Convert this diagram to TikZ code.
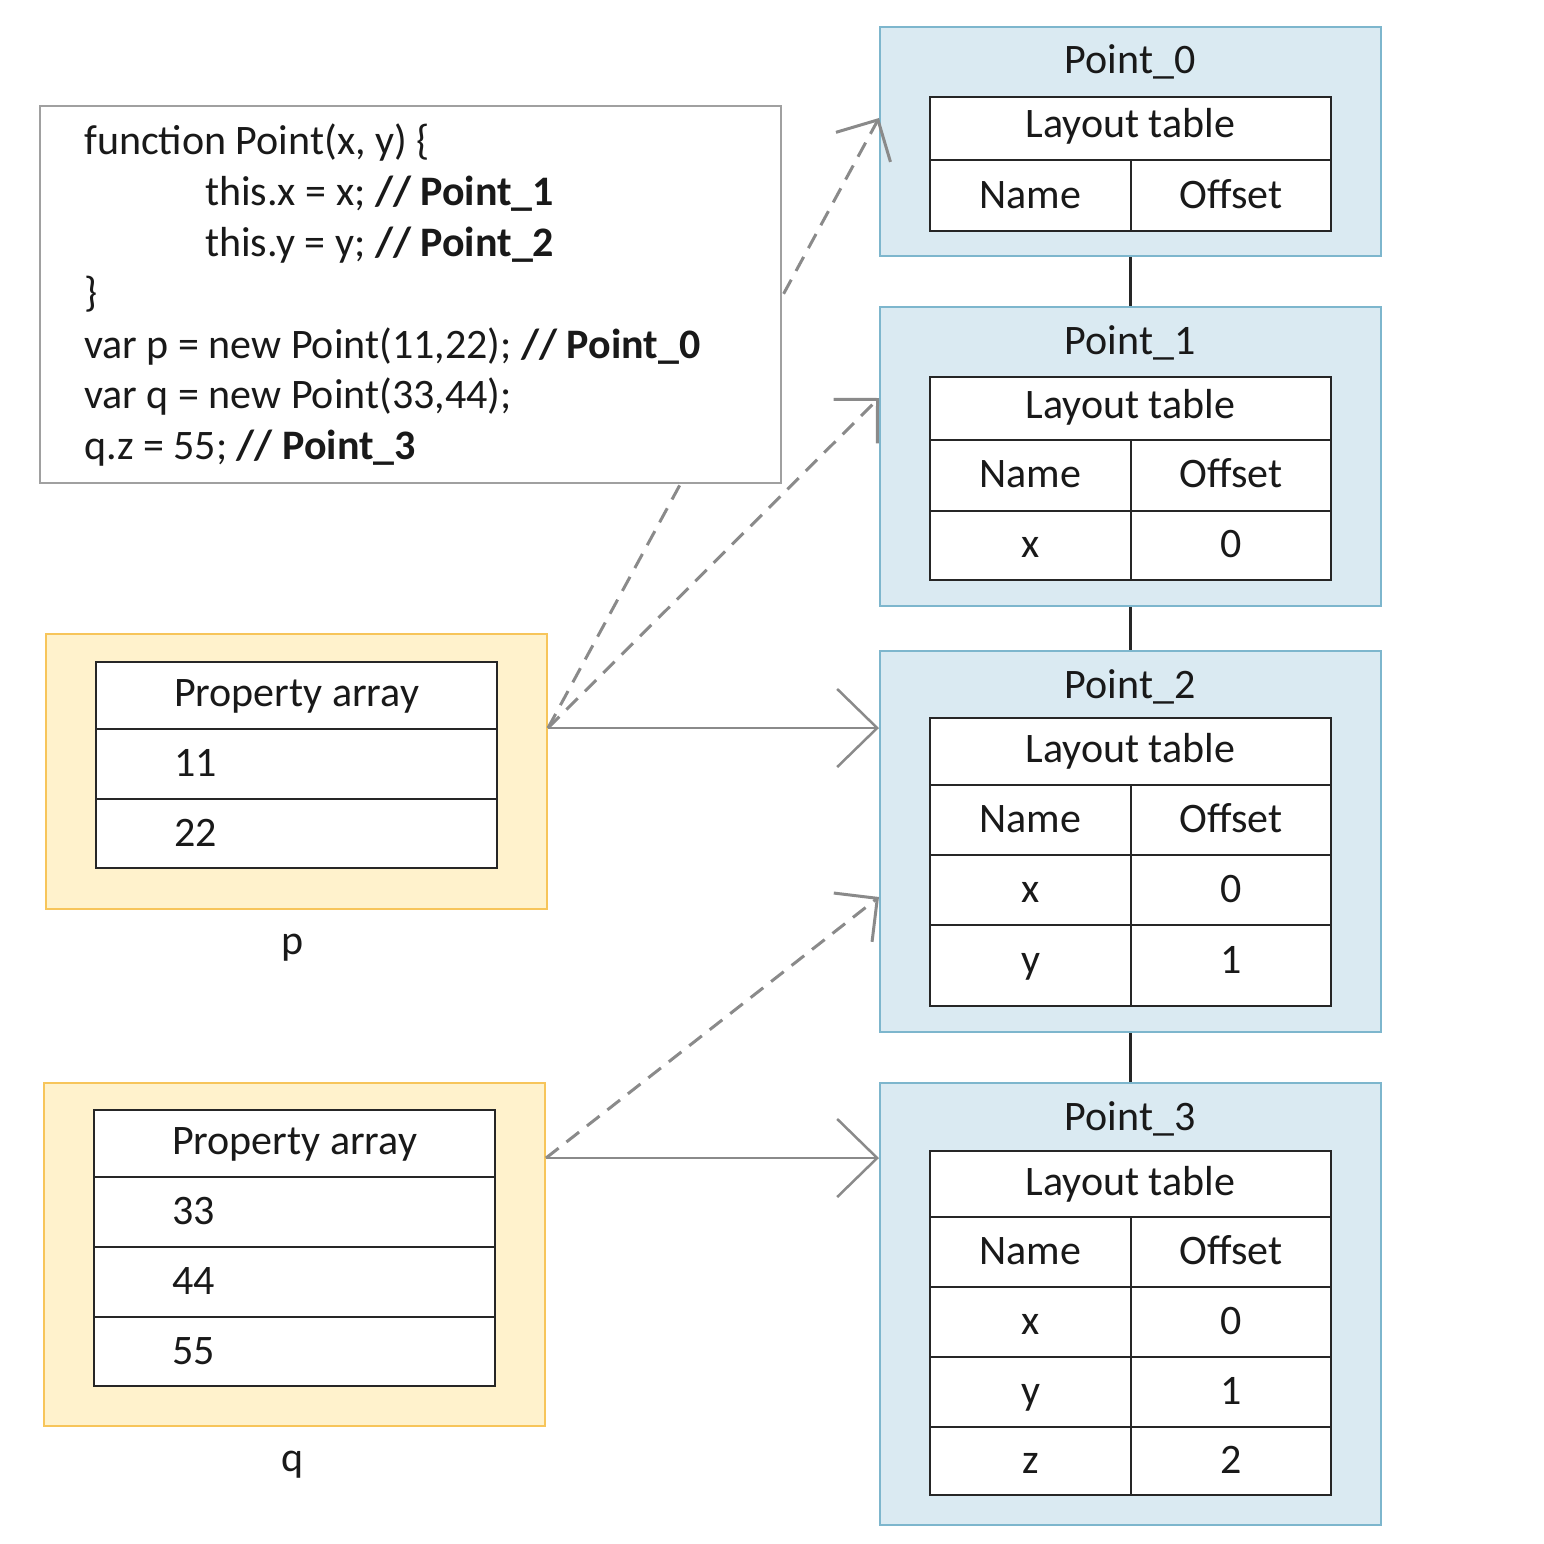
\documentclass[tikz,border=0pt]{standalone}
\usepackage{fontspec}
\setmainfont{Carlito}
\usetikzlibrary{arrows.meta}
\definecolor{ptfill}{HTML}{DAEAF2}
\definecolor{ptline}{HTML}{7DB6CD}
\definecolor{pafill}{HTML}{FFF2CC}
\definecolor{paline}{HTML}{F7C55A}
\definecolor{conn}{HTML}{8A8A8A}
\definecolor{codeline}{HTML}{A0A0A0}
\begin{document}
\begin{tikzpicture}[x=1pt,y=-1pt,
  txt/.style={font=\fontsize{42}{50}\selectfont, anchor=base, inner sep=0, text=black!90},
  ltxt/.style={txt, anchor=base west},
  ptbox/.style={draw=ptline, fill=ptfill, line width=2pt, inner sep=0},
  pabox/.style={draw=paline, fill=pafill, line width=2pt, inner sep=0},
  codebox/.style={draw=codeline, fill=white, line width=2pt, inner sep=0},
  tbl/.style={draw=black!85, line width=2.5pt},
  tblfill/.style={fill=white, draw=black!85, line width=2.5pt},
  link/.style={draw=black!85, line width=2.5pt},
  solidarrow/.style={draw=conn, line width=2.5pt, -{Straight Barb[length=40pt,width=78pt]}},
  dasharrow/.style={draw=conn, line width=3pt, dash pattern=on 16pt off 10pt, -{Straight Barb[length=31pt,width=62pt]}}
]
\useasboundingbox (0,0) rectangle (1544,1544);

% ---------- Point boxes ----------
\node[ptbox, minimum width=501pt, minimum height=229pt] (P0) at (1130.5,141.5) {};
\node[ptbox, minimum width=501pt, minimum height=299pt] (P1) at (1130.5,456.5) {};
\node[ptbox, minimum width=501pt, minimum height=381pt] (P2) at (1130.5,841.5) {};
\node[ptbox, minimum width=501pt, minimum height=442pt] (P3) at (1130.5,1304) {};

\draw[link] (P0.south) -- (P1.north);
\draw[link] (P1.south) -- (P2.north);
\draw[link] (P2.south) -- (P3.north);

% Point_0 table
\draw[tblfill] (930,97) rectangle (1331,231);
\draw[tbl] (930,160) -- (1331,160) (1131,160) -- (1131,231);
\node[txt] (p0t) at (1130,74) {Point\_0};
\node[txt] (p0l) at (1130.5,138) {Layout table};
\node[txt] (p0n) at (1030.5,208) {Name};
\node[txt] (p0o) at (1231,208) {Offset};

% Point_1 table
\draw[tblfill] (930,377) rectangle (1331,580);
\draw[tbl] (930,440) -- (1331,440) (930,511) -- (1331,511) (1131,440) -- (1131,580);
\node[txt] (p1t) at (1130,354) {Point\_1};
\node[txt] (p1l) at (1130.5,418) {Layout table};
\node[txt] (p1n) at (1030.5,487) {Name};
\node[txt] (p1o) at (1231,487) {Offset};
\node[txt] (p1x) at (1030.5,557) {x};
\node[txt] (p1x0) at (1231,557) {0};

% Point_2 table
\draw[tblfill] (930,718) rectangle (1331,1006);
\draw[tbl] (930,785) -- (1331,785) (930,855) -- (1331,855) (930,925) -- (1331,925) (1131,785) -- (1131,1006);
\node[txt] (p2t) at (1130,698) {Point\_2};
\node[txt] (p2l) at (1130.5,762) {Layout table};
\node[txt] (p2n) at (1030.5,832) {Name};
\node[txt] (p2o) at (1231,832) {Offset};
\node[txt] (p2x) at (1030.5,902) {x};
\node[txt] (p2x0) at (1231,902) {0};
\node[txt] (p2y) at (1030.5,973) {y};
\node[txt] (p2y1) at (1231,973) {1};

% Point_3 table
\draw[tblfill] (930,1151) rectangle (1331,1495);
\draw[tbl] (930,1217) -- (1331,1217) (930,1287) -- (1331,1287) (930,1357) -- (1331,1357) (930,1427) -- (1331,1427) (1131,1217) -- (1131,1495);
\node[txt] (p3t) at (1130,1130) {Point\_3};
\node[txt] (p3l) at (1130.5,1195) {Layout table};
\node[txt] (p3n) at (1030.5,1264) {Name};
\node[txt] (p3o) at (1231,1264) {Offset};
\node[txt] (p3x) at (1030.5,1334) {x};
\node[txt] (p3x0) at (1231,1334) {0};
\node[txt] (p3y) at (1030.5,1404) {y};
\node[txt] (p3y1) at (1231,1404) {1};
\node[txt] (p3z) at (1030.5,1473) {z};
\node[txt] (p3z2) at (1231,1473) {2};

% ---------- p object ----------
\node[pabox, minimum width=501pt, minimum height=275pt] (pbox) at (296.5,771.5) {};
\draw[tblfill] (96,662) rectangle (497,868);
\draw[tbl] (96,729) -- (497,729) (96,799) -- (497,799);
\node[txt] (pprop) at (296.5,706) {Property array};
\node[ltxt] (p11) at (174,776) {11};
\node[ltxt] (p22) at (174,846) {22};
\node[txt] (plab) at (293,954) {p};

% ---------- q object ----------
\node[pabox, minimum width=501pt, minimum height=343pt] (qbox) at (294.5,1254.5) {};
\draw[tblfill] (94,1110) rectangle (495,1386);
\draw[tbl] (94,1177) -- (495,1177) (94,1247) -- (495,1247) (94,1317) -- (495,1317);
\node[txt] (qprop) at (294.5,1154) {Property array};
\node[ltxt] (q33) at (172,1224) {33};
\node[ltxt] (q44) at (172,1294) {44};
\node[ltxt] (q55) at (172,1364) {55};
\node[txt] (qlab) at (293,1471) {q};

% ---------- connector end points ----------
\coordinate (pout) at (pbox.east |- 0,728);
\coordinate (qout) at (qbox.east |- 0,1158);
\coordinate (p0in) at (P0.west |- 0,118);
\coordinate (p1in) at (P1.west |- 0,398);
\coordinate (p2in) at (P2.west |- 0,728);
\coordinate (p2inq) at (P2.west |- 0,897);
\coordinate (p3in) at (P3.west |- 0,1158);

% p -> Point_0 (passes behind the code box)
\draw[dasharrow] (pout) -- (p0in);

% ---------- code box ----------
\node[codebox, minimum width=741pt, minimum height=377pt] (code) at (410.5,294.5) {};
\node[ltxt] (c1) at (84,154) {function Point(x, y) \{};
\node[ltxt] (c2) at (205,205) {this.x = x; \textbf{// Point\_1}};
\node[ltxt] (c3) at (205,256) {this.y = y; \textbf{// Point\_2}};
\node[ltxt] (c4) at (84,306) {\}};
\node[ltxt] (c5) at (84,358) {var p = new Point(11,22); \textbf{// Point\_0}};
\node[ltxt] (c6) at (84,408) {var q = new Point(33,44);};
\node[ltxt] (c7) at (84,459) {q.z = 55; \textbf{// Point\_3}};

% ---------- other connectors ----------
\draw[dasharrow] (pout) -- (p1in);
\draw[solidarrow] (pout) -- (p2in);
\draw[dasharrow] (qout) -- (p2inq);
\draw[solidarrow] (qout) -- (p3in);
\end{tikzpicture}
\end{document}
